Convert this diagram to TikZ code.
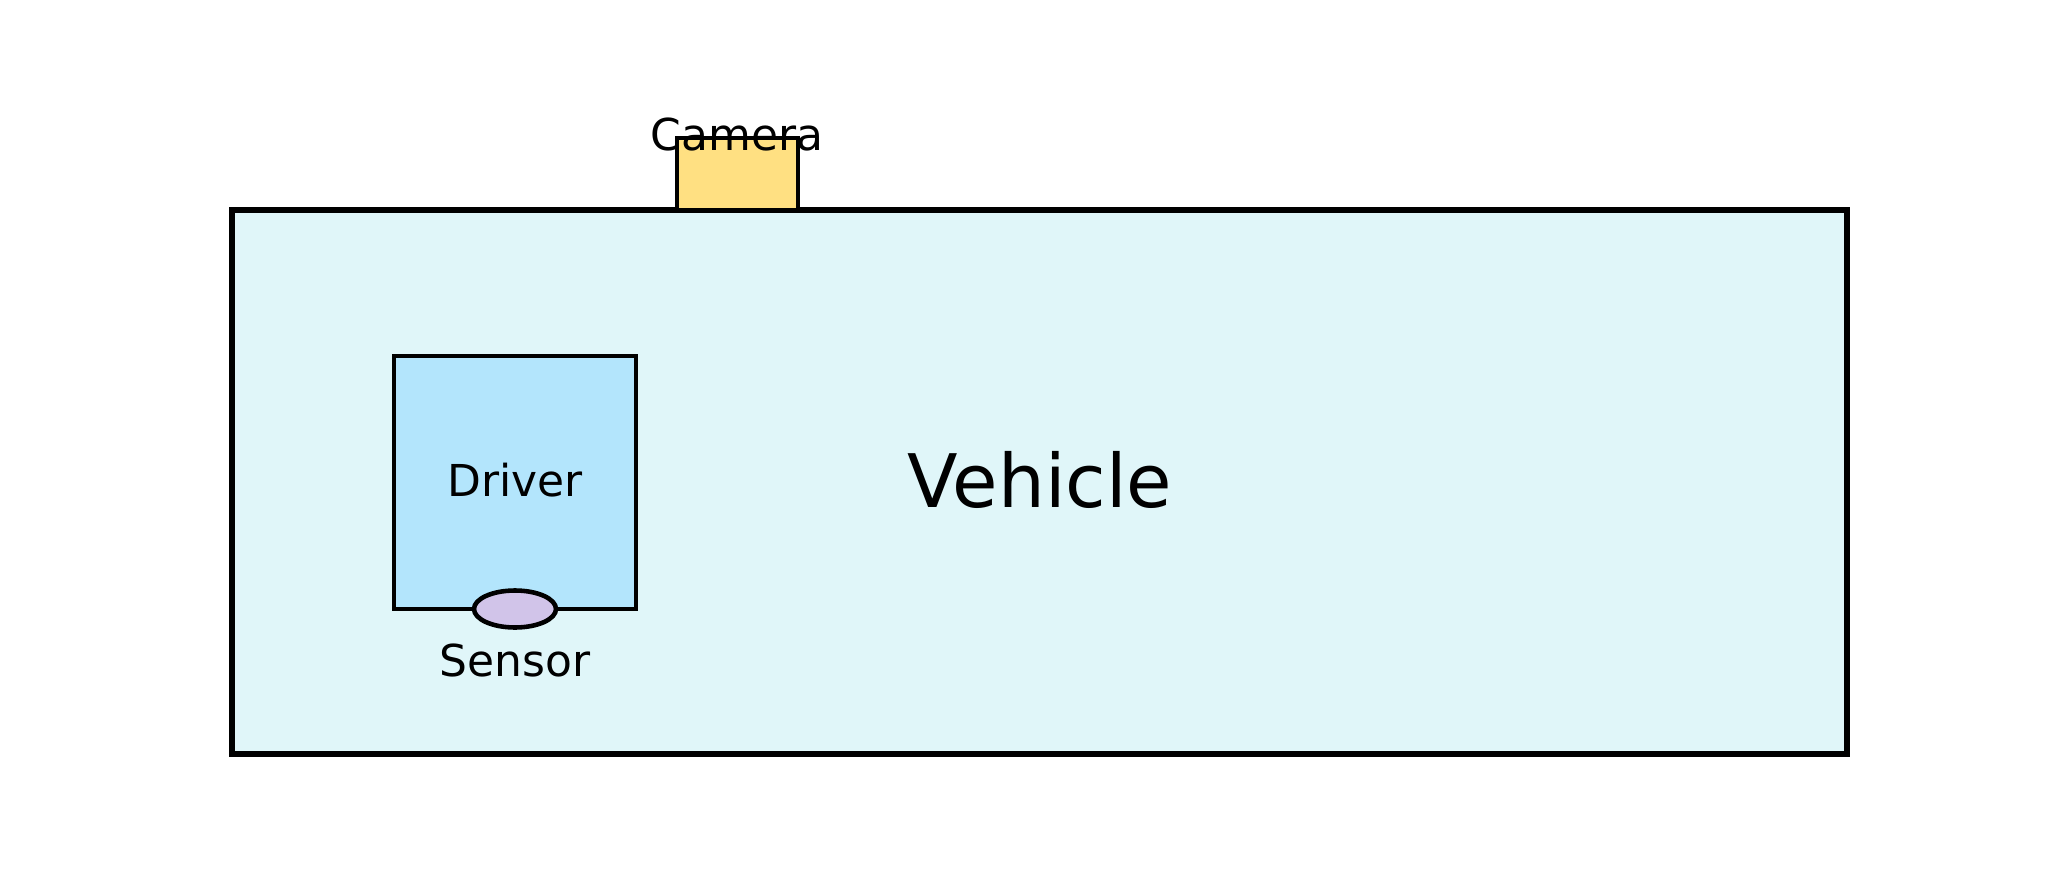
\documentclass[tikz,border=0pt]{standalone}
\usepackage{fontspec}
\setmainfont{DejaVu Sans}
\definecolor{vehfill}{HTML}{E0F6F9}
\definecolor{drvfill}{HTML}{B3E5FC}
\definecolor{camfill}{HTML}{FFE082}
\definecolor{senfill}{HTML}{D1C4E9}
\begin{document}
\begin{tikzpicture}[x=0.01cm,y=-0.01cm,
  thinbox/.style={draw=black,line width=1pt}]
\useasboundingbox (0,0) rectangle (2070,870);
\draw[fill=vehfill,line width=1.9pt] (232,210) rectangle (1847,754);
\node[font=\fontsize{21}{24}\selectfont] (veh) at (1040,480) {Vehicle};
\draw[thinbox,fill=camfill] (677,138) rectangle (798,210);
\node[font=\fontsize{12.5}{14}\selectfont] (camlbl) at (737,135) {Camera};
\draw[thinbox,fill=drvfill] (394,356) rectangle (636,609);
\node[font=\fontsize{12.5}{14}\selectfont] (drv) at (515,480) {Driver};
\draw[fill=senfill,line width=1.3pt] (515,609) ellipse [x radius=41,y radius=18.5];
\node[font=\fontsize{12.5}{14}\selectfont] (sen) at (515,660) {Sensor};
\end{tikzpicture}
\end{document}
